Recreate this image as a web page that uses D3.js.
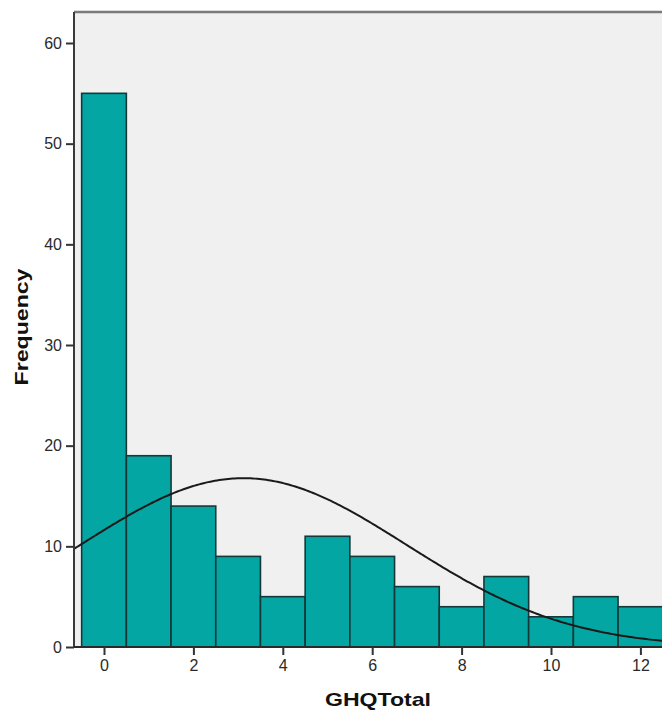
<!DOCTYPE html>
<html>
<head>
<meta charset="utf-8">
<script src="https://cdn.jsdelivr.net/npm/d3@7"></script>
<style>
  html, body { margin: 0; padding: 0; background: #fff; }
  svg { display: block; }
</style>
</head>
<body>
<svg id="chart" width="662" height="710"></svg>
<script>
// GHQ total score histogram with fitted normal curve
const scores = [0, 1, 2, 3, 4, 5, 6, 7, 8, 9, 10, 11, 12];
const frequencies = [55, 19, 14, 9, 5, 11, 9, 6, 4, 7, 3, 5, 4];
const yTicks = [0, 10, 20, 30, 40, 50, 60];
const xTicks = [0, 2, 4, 6, 8, 10, 12];
// normal curve parameters (mean, standard deviation, N)
const curveMean = 3.12;
const curveSD = 3.64;
const curveN = 153;

const svg = d3.select("#chart");
const W = 662, H = 710;

const x = d3.scaleLinear().domain([0, 12]).range([104, 640.4]);
const y = d3.scaleLinear().domain([0, 60]).range([647, 43]);

const plotLeft = 74, plotTop = 12, plotBottom = 647;

// plot background
svg.append("rect")
  .attr("x", plotLeft).attr("y", plotTop)
  .attr("width", W - plotLeft + 20).attr("height", plotBottom - plotTop)
  .attr("fill", "#f0f0f0");

// bars
svg.append("g").selectAll("rect")
  .data(scores)
  .join("rect")
  .attr("x", (d) => x(d - 0.5))
  .attr("y", (d, i) => y(frequencies[i]))
  .attr("width", (d) => x(d + 0.5) - x(d - 0.5))
  .attr("height", (d, i) => y(0) - y(frequencies[i]))
  .attr("fill", "#03a6a2")
  .attr("stroke", "#163838")
  .attr("stroke-width", 1.6);

// normal curve
const dens = (v) => curveN / (curveSD * Math.sqrt(2 * Math.PI)) *
  Math.exp(-0.5 * Math.pow((v - curveMean) / curveSD, 2));
const curveX = d3.range(x.invert(plotLeft), x.invert(W + 5), 0.05);
svg.append("path")
  .datum(curveX)
  .attr("fill", "none")
  .attr("stroke", "#1a1a1a")
  .attr("stroke-width", 2)
  .attr("d", d3.line().x((d) => x(d)).y((d) => y(dens(d))).curve(d3.curveBasis));

// frame: top border
svg.append("line")
  .attr("x1", plotLeft).attr("x2", W + 5)
  .attr("y1", plotTop).attr("y2", plotTop)
  .attr("stroke", "#7a7a7a").attr("stroke-width", 2.5);

// y axis
const yAxis = d3.axisLeft(y).tickValues(yTicks).tickSize(8).tickPadding(4).tickSizeOuter(0);
const gy = svg.append("g").attr("transform", `translate(${plotLeft},0)`).call(yAxis);
gy.select(".domain").attr("d", `M0,${plotTop}V${plotBottom}`).attr("stroke", "#3a3a3a").attr("stroke-width", 2);

// x axis
const xAxis = d3.axisBottom(x).tickValues(xTicks).tickSize(8).tickPadding(5).tickSizeOuter(0);
const gx = svg.append("g").attr("transform", `translate(0,${plotBottom})`).call(xAxis);
gx.select(".domain").attr("d", `M${plotLeft},0H${W + 5}`).attr("stroke", "#2a2a2a").attr("stroke-width", 2);

[gx, gy].forEach((g) => {
  g.attr("font-size", null).attr("font-family", null);
  g.selectAll(".tick line").attr("stroke", "#333").attr("stroke-width", 2);
  g.selectAll(".tick text")
    .attr("fill", "#2a2a2a")
    .attr("font-family", "Liberation Sans, Arial, sans-serif")
    .attr("font-size", 16);
});

// axis titles
svg.append("text")
  .attr("x", 378).attr("y", 706)
  .attr("text-anchor", "middle")
  .attr("textLength", 106).attr("lengthAdjust", "spacingAndGlyphs")
  .style("font-family", "Liberation Sans, Arial, sans-serif")
  .style("font-size", "19px").style("font-weight", "bold")
  .attr("fill", "#111")
  .text("GHQTotal");

svg.append("text")
  .attr("transform", "translate(28,327) rotate(-90)")
  .attr("text-anchor", "middle")
  .attr("textLength", 117).attr("lengthAdjust", "spacingAndGlyphs")
  .style("font-family", "Liberation Sans, Arial, sans-serif")
  .style("font-size", "19px").style("font-weight", "bold")
  .attr("fill", "#111")
  .text("Frequency");
</script>
</body>
</html>
